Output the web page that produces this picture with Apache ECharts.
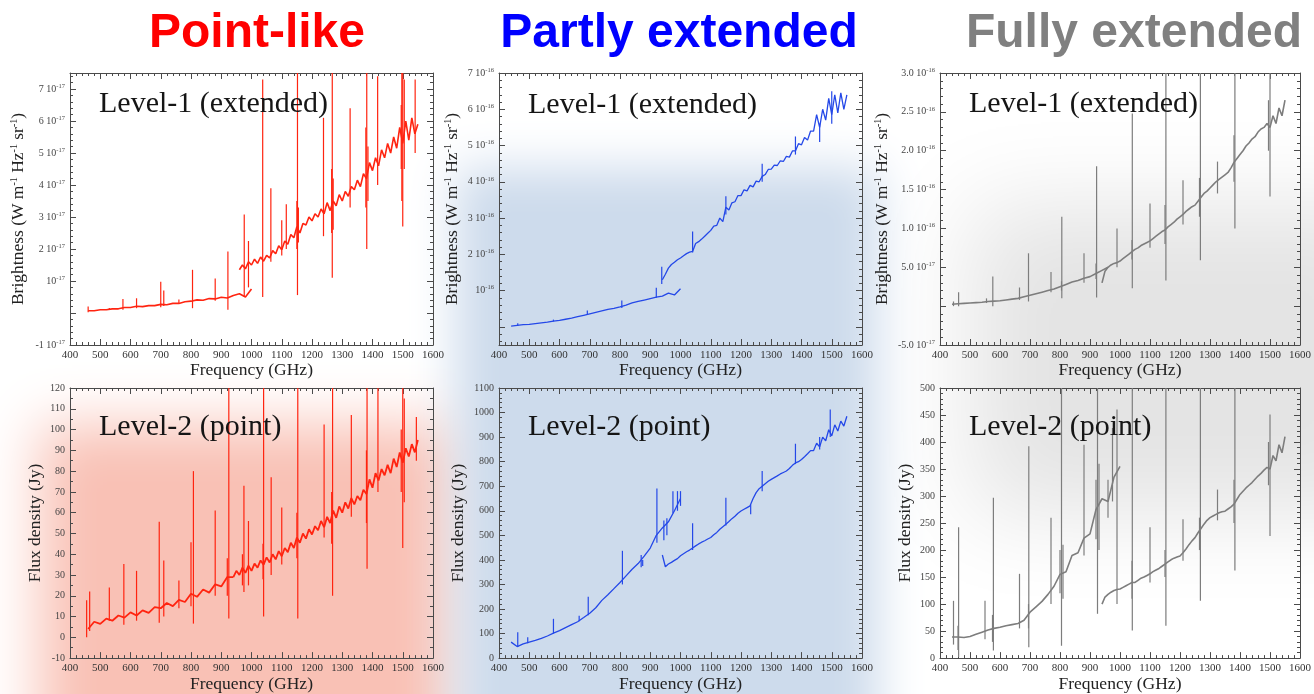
<!DOCTYPE html>
<html>
<head>
<meta charset="utf-8">
<script src="https://cdn.jsdelivr.net/npm/echarts@6/dist/echarts.min.js"></script>
<style>
  html, body { margin: 0; padding: 0; background: #fff; }
  #chart { width: 1314px; height: 694px; }
</style>
</head>
<body>
<div id="chart"></div>
<script>
// frequency grids (GHz) shared by all spectra
const freqLow = [440,460,480,500,520,540,560,580,600,620,640,660,680,700,720,740,760,780,800,820,840,860,880,900,920,940,960,980,1000];
const freqHigh = [940,950,960,970,980,990,1000,1010,1020,1030,
  1040,1050,1060,1070,1080,1090,1100,1110,1120,1130,
  1140,1150,1160,1170,1180,1190,1200,1210,1220,1230,
  1240,1250,1260,1270,1280,1290,1300,1310,1320,1330,
  1340,1350,1360,1370,1380,1390,1400,1410,1420,1430,
  1440,1450,1460,1470,1480,1490,1500,1510,1520,1530,
  1540,1550];

// Point-like, level-1 brightness (units of 1e-17)
const p1Low = [null,0.07,0.07,0.1,0.1,0.13,0.13,0.17,0.17,0.21,
  0.2,0.23,0.23,0.27,0.26,0.3,0.3,0.35,0.37,0.41,
  0.4,0.45,0.44,0.49,0.47,0.55,0.6,0.5,0.75];
const p1High = [null,null,1.35,1.5,1.38,1.6,1.5,1.68,1.55,1.75,
  1.62,1.8,1.72,1.95,1.85,2.1,1.98,2.25,2.15,2.45,
  2.35,2.7,2.5,2.8,2.75,3.0,2.88,3.1,3.0,3.25,
  3.1,3.45,3.2,3.5,3.35,3.7,3.5,3.8,3.65,3.95,
  3.85,4.15,3.95,4.35,4.2,4.7,4.45,4.85,4.6,5.1,
  4.85,5.3,5.0,5.5,5.15,5.8,5.3,6.0,5.4,6.1,
  5.6,5.9];
// spikes: [freq, low, high]
const p1Spikes = [[460,0.02,0.2],[530,0.1,0.16],[575,0.1,0.44],[620,0.15,0.46],[700,0.18,0.98],[710,0.22,0.7],
  [760,0.28,0.42],[805,0.15,1.35],[880,0.38,1.08],[922,0.1,1.92],[976,0.5,3.08],[990,0.8,2.25],
  [1037,0.5,7.3],[1064,1.6,3.9],[1100,1.8,2.9],[1115,2.0,3.4],[1150,2.0,3.5],[1152,0.56,7.5],[1155,2.2,3.3],
  [1238,2.4,6.1],[1265,2.5,4.5],[1267,1.1,7.5],[1270,2.6,4.2],[1326,3.3,6.4],[1378,3.3,5.8],[1381,2.0,7.5],
  [1385,3.5,5.2],[1417,4.0,7.4],[1495,4.5,6.5],[1497,3.5,7.5],[1500,2.7,7.5],[1505,4.5,7.3],[1541,5.0,7.3]];

// Partly extended, level-1 brightness (units of 1e-16)
const p2Low = [0.02,0.04,0.06,0.07,0.09,0.11,0.13,0.16,0.18,0.21,
  0.24,0.28,0.32,0.36,0.4,0.44,0.48,0.51,0.55,0.6,
  0.66,0.7,0.74,0.78,0.82,0.85,0.93,0.88,1.05];
const p2High = [1.3,1.45,1.62,1.72,1.78,1.85,1.9,1.96,2.02,2.06,
  2.08,2.3,2.35,2.42,2.5,2.58,2.66,2.78,2.8,3.0,
  2.9,3.3,3.22,3.42,3.45,3.62,3.62,3.78,3.75,3.9,
  3.86,4.02,4.0,4.15,4.2,4.34,4.35,4.46,4.45,4.58,
  4.56,4.7,4.68,4.85,4.85,5.05,5.02,5.22,5.15,5.4,
  5.4,5.85,5.5,6.0,5.7,6.3,5.85,6.4,5.9,6.45,
  6.0,6.4];
const p2Spikes = [[462,0.03,0.1],[580,0.15,0.2],[692,0.33,0.45],[806,0.52,0.73],[920,0.8,1.08],[938,1.18,1.66],
  [1040,2.05,2.63],[1150,3.1,3.6],[1270,4.0,4.5],[1380,4.75,5.25],[1460,5.1,5.6],[1500,5.6,6.5]];

// Fully extended, level-1 brightness (units of 1e-16)
const p3Low = [0.025,0.03,0.035,0.04,0.045,0.05,0.06,0.065,0.07,0.08,
  0.09,0.1,0.12,0.14,0.16,0.18,0.2,0.22,0.25,0.28,
  0.31,0.33,0.36,0.38,0.42,0.46,0.5,null,null];
const p3High = [0.3,0.45,0.5,0.53,0.55,0.56,0.58,0.61,0.64,0.67,
  0.7,0.73,0.75,0.78,0.8,0.82,0.84,0.87,0.9,0.93,
  0.96,0.98,1.02,1.05,1.08,1.12,1.15,1.18,1.22,1.25,
  1.28,1.3,1.35,1.4,1.45,1.48,1.52,1.56,1.6,1.63,
  1.66,1.69,1.72,1.78,1.85,1.9,1.95,2.0,2.06,2.1,
  2.15,2.18,2.24,2.28,2.3,2.35,2.3,2.45,2.35,2.55,
  2.45,2.65];
const p3Spikes = [[445,0.0,0.06],[462,0.0,0.18],[555,0.04,0.1],[576,0.0,0.38],[665,0.08,0.24],[695,0.06,0.68],
  [770,0.18,0.44],[805,0.2,0.32],[806,0.1,1.15],[880,0.3,0.68],[920,0.35,0.55],[922,0.11,1.8],[990,0.5,1.0],
  [1040,0.6,0.85],[1041,0.23,2.48],[1100,0.75,1.32],[1150,0.8,1.3],[1153,0.33,3.0],[1210,1.05,1.62],
  [1265,1.15,1.65],[1268,0.59,3.0],[1325,1.45,1.86],[1380,1.6,2.2],[1383,1.0,3.0],[1495,2.0,2.65],[1500,1.41,3.0]];

// Point-like, level-2 flux density (Jy)
const p4Low = [null,4,7.5,6.5,9,8,10.5,9.5,12,10.5,
  13,11.8,14.5,14,16.5,15,18,17,21,19.5,
  23,21.5,25.5,24.5,29,29,null,null,null];
const p4High = [29,32,30,33.5,31,34.5,32,35.5,33.5,37,
  35,38.5,36,40,37.5,41.5,39,43,41,45.5,
  43,48,45.5,50,47.5,52,49.5,53.5,51.5,56,
  53,58,55,61,57.5,63,60,65,62,67,
  64,68,66,71,69,76,72,79,75.5,81,
  78,83,79,86,82,89,84,91,87,93,
  89,95];
const p4Spikes = [[455,0,17.8],[465,3,22],[530,8,24],[578,6,35.3],[620,8,32],[695,7,55.6],[710,10,37],
  [760,14,27.4],[800,15,45.7],[808,6.6,80],[880,20,61],[920,20,38],[925,9,120],[970,25,40],[975,21.8,73],
  [990,25,56],[1038,28,45],[1040,10,120],[1065,30,77],[1100,35,62.5],[1150,38,60],[1153,9,120],
  [1240,48,102.4],[1265,45,70],[1268,20,120],[1330,58,107],[1380,55,90],[1382,33,120],[1418,70,120],
  [1495,70,100],[1500,43,120],[1505,65,115],[1545,85,106]];

// Partly extended, level-2 flux density (Jy)
const p5Low = [65,47,58,65,72,80,90,102,112,124,
  136,148,165,183,205,235,258,283,308,335,
  362,385,415,448,500,530,555,600,650];
const p5High = [420,372,383,390,398,405,417,425,433,440,
  448,457,465,472,478,485,491,502,512,525,
  535,545,556,568,578,590,599,606,613,620,
  650,674,690,700,710,720,728,735,742,750,
  756,762,772,785,795,800,809,820,832,845,
  845,875,860,900,885,930,905,950,925,965,
  945,985];
const p5Spikes = [[462,45,105],[495,60,85],[580,100,160],[665,150,172],[695,175,250],[808,300,437],
  [870,370,420],[875,375,400],[922,470,691],[945,480,560],[955,500,570],[975,590,680],[990,600,680],
  [1000,620,680],[1040,440,549],[1150,540,653],[1232,586,625],[1270,680,762],[1380,790,873],
  [1460,850,900],[1495,900,1012]];

// Fully extended, level-2 flux density (Jy)
const p6Low = [39,39,38,40,44,48,52,55,57,60,
  62,64,70,85,95,105,118,133,155,160,
  190,195,222,230,275,295,290,335,355];
const p6High = [100,113,118,122,125,127,128,131,134,137,
  140,140,144,148,150,153,156,160,163,166,
  170,174,178,182,185,187,189,195,202,210,
  217,223,232,240,248,255,260,263,266,269,
  271,272,276,280,285,294,303,309,315,320,
  325,331,337,342,348,353,350,375,365,395,
  380,410];
const p6Spikes = [[445,25,106],[460,15,60],[462,2,242],[550,35,106],[575,30,80],[578,14,297],[665,55,156],
  [695,55,100],[696,20,392],[770,100,260],[800,120,200],[805,23,500],[810,110,210],[880,190,395],
  [920,220,330],[925,82,500],[930,200,360],[960,260,330],[975,290,426],[990,100,460],[1040,110,180],
  [1041,51,500],[1100,140,242],[1150,150,200],[1153,60,500],[1210,180,257],[1265,200,260],[1268,106,500],
  [1325,255,312],[1380,250,330],[1383,162,500],[1495,320,400],[1500,226,451]];

const RED = '#ff2410', BLUE = '#2448e8', GRAY = '#7d7d7d';
const SERIF = '"Liberation Serif", "DejaVu Serif", serif';
const SANS = '"Liberation Sans", Arial, sans-serif';
const AXIS = '#4a4a4a';

function pairs(freqs, vals) {
  var out = [];
  for (var i = 0; i < freqs.length; i++) {
    if (vals[i] !== null) out.push([freqs[i], vals[i]]);
  }
  return out;
}

// y tick label helpers (scientific style of the original plots)
var supRich = {
  m: { fontFamily: SERIF, fontSize: 10, color: '#444' },
  e: { fontFamily: SERIF, fontSize: 6.5, color: '#444', padding: [0, 0, 6, 0] }
};
function expLabel(exp) {
  return function (v) {
    var r = Math.round(v * 100) / 100;
    if (r === 0 || Math.abs(r % 1) > 1e-6) return '';
    if (r === 1) return '{m|10}{e|' + exp + '}';
    return '{m|' + r + ' 10}{e|' + exp + '}';
  };
}
function halfLabel(v) {
  var r = Math.round(v * 100) / 100;
  if (r === 0) return '';
  if (Math.abs(r) < 1) return '{m|' + (r * 10).toFixed(1) + ' 10}{e|-17}';
  return '{m|' + r.toFixed(1) + ' 10}{e|-16}';
}
function plain(v) { return String(v); }

const brightName = 'Brightness (W m{e|-1} Hz{e|-1} sr{e|-1})';
const fluxName = 'Flux density (Jy)';

const panels = [
  { low: p1Low, high: p1High, spikes: p1Spikes, color: RED, width: 1.6, name: brightName, gap: 43,
    y: { min: -1, max: 7.5, interval: 1, minor: 5, fmt: expLabel('-17') } },
  { low: p2Low, high: p2High, spikes: p2Spikes, color: BLUE, width: 1.3, name: brightName, gap: 38,
    y: { min: -0.5, max: 7, splitNumber: 7, minor: 5, fmt: expLabel('-16') } },
  { low: p3Low, high: p3High, spikes: p3Spikes, color: GRAY, width: 1.6, name: brightName, gap: 49,
    y: { min: -0.5, max: 3, interval: 0.5, minor: 5, fmt: halfLabel } },
  { low: p4Low, high: p4High, spikes: p4Spikes, color: RED, width: 1.8, name: fluxName, gap: 26,
    y: { min: -10, max: 120, interval: 10, minor: 2 } },
  { low: p5Low, high: p5High, spikes: p5Spikes, color: BLUE, width: 1.3, name: fluxName, gap: 32,
    y: { min: 0, max: 1100, interval: 100, minor: 5 } },
  { low: p6Low, high: p6High, spikes: p6Spikes, color: GRAY, width: 1.6, name: fluxName, gap: 26,
    y: { min: 0, max: 500, interval: 50, minor: 5 } }
];

const colLeft = [70, 499, 940];
const rowTop = [73, 388];
const rowH = [272, 271];
const plotW = 363;

var grid = [], xAxis = [], yAxis = [], series = [];

function spikeItem(params, api) {
  var lo = api.coord([api.value(0), api.value(1)]);
  var hi = api.coord([api.value(0), api.value(2)]);
  return {
    type: 'line',
    shape: { x1: lo[0], y1: lo[1], x2: hi[0], y2: hi[1] },
    style: { stroke: api.visual('color'), lineWidth: 1.2 }
  };
}

panels.forEach(function (p, i) {
  var row = Math.floor(i / 3), col = i % 3;
  grid.push({ left: colLeft[col], top: rowTop[row], width: plotW, height: rowH[row], show: false });

  var tickBase = {
    axisLine: { onZero: false, lineStyle: { color: AXIS, width: 1 } },
    axisTick: { inside: true, length: 6, lineStyle: { color: AXIS } },
    splitLine: { show: false }
  };
  var xBase = Object.assign({ gridIndex: i, type: 'value', min: 400, max: 1600, interval: 100,
    minorTick: { show: true, splitNumber: 5, length: 3, lineStyle: { color: AXIS } } }, tickBase);
  xAxis.push(Object.assign({}, xBase, {
    position: 'bottom',
    name: 'Frequency (GHz)', nameLocation: 'middle', nameGap: row ? 15 : 14,
    nameTextStyle: { fontFamily: SERIF, fontSize: 17.5, color: '#222' },
    axisLabel: { fontFamily: SERIF, fontSize: 11, color: '#333', margin: 5, formatter: plain }
  }));
  xAxis.push(Object.assign({}, xBase, { position: 'top', axisLabel: { show: false } }));

  var yBase = Object.assign({ gridIndex: i, type: 'value', min: p.y.min, max: p.y.max,
    minorTick: { show: true, splitNumber: p.y.minor, length: 3, lineStyle: { color: AXIS } } }, tickBase);
  if (p.y.interval) yBase.interval = p.y.interval;
  if (p.y.splitNumber) yBase.splitNumber = p.y.splitNumber;
  var yLabel = { fontFamily: SERIF, fontSize: 10, color: '#444', margin: 5, showMaxLabel: i !== 0,
    formatter: plain };
  if (p.y.fmt) { yLabel.formatter = p.y.fmt; yLabel.rich = supRich; }
  yAxis.push(Object.assign({}, yBase, {
    position: 'left',
    name: p.name, nameLocation: 'middle', nameGap: p.gap, nameRotate: 90,
    nameTextStyle: { fontFamily: SERIF, fontSize: 17.5, color: '#222',
      rich: { e: { fontFamily: SERIF, fontSize: 10, color: '#222', padding: [0, 0, 8, 0] } } },
    axisLabel: yLabel
  }));
  yAxis.push(Object.assign({}, yBase, { position: 'right', axisLabel: { show: false } }));

  var lineBase = { type: 'line', xAxisIndex: 2 * i, yAxisIndex: 2 * i, showSymbol: false, symbol: 'none',
    lineStyle: { color: p.color, width: p.width }, itemStyle: { color: p.color }, z: 3 };
  series.push(Object.assign({ data: pairs(freqLow, p.low) }, lineBase));
  series.push(Object.assign({ data: pairs(freqHigh, p.high) }, lineBase));
  series.push({ type: 'custom', xAxisIndex: 2 * i, yAxisIndex: 2 * i, clip: true, z: 2,
    itemStyle: { color: p.color }, encode: { x: 0, y: [1, 2] },
    renderItem: spikeItem, data: p.spikes });
});

// soft coloured backgrounds: only the blurred shadow of an off-screen rect is visible
function glow(x, y, w, h, color, blur) {
  return { type: 'rect', z: -10, silent: true,
    shape: { x: x - 4000, y: y, width: w, height: h },
    style: { fill: color, shadowColor: color, shadowBlur: blur, shadowOffsetX: 4000, shadowOffsetY: 0 } };
}
function label(text, x, y, font, fill) {
  return { type: 'text', z: 50, silent: true,
    style: { text: text, x: x, y: y, font: font, fill: fill, align: 'center', verticalAlign: 'middle' } };
}
function panelLabel(text, x, y) {
  return { type: 'text', z: 50, silent: true,
    style: { text: text, x: x, y: y, font: '30px ' + SERIF, fill: '#151515', align: 'left', verticalAlign: 'middle' } };
}

var graphic = [
  glow(970, 205, 430, 310, '#e4e4e4', 90),
  glow(40, 425, 412, 335, '#f9c1b5', 55),
  glow(456, 168, 422, 600, '#cddbec', 45),
  label('Point-like', 257, 34, 'bold 48px ' + SANS, '#ff0000'),
  label('Partly extended', 679, 34, 'bold 48px ' + SANS, '#0000ff'),
  label('Fully extended', 1134, 34, 'bold 48px ' + SANS, '#808080'),
  panelLabel('Level-1 (extended)', 99, 104),
  panelLabel('Level-1 (extended)', 528, 105),
  panelLabel('Level-1 (extended)', 969, 104),
  panelLabel('Level-2 (point)', 99, 427),
  panelLabel('Level-2 (point)', 528, 427),
  panelLabel('Level-2 (point)', 969, 427)
];

var chart = echarts.init(document.getElementById('chart'));
chart.setOption({
  animation: false,
  backgroundColor: '#ffffff',
  grid: grid,
  xAxis: xAxis,
  yAxis: yAxis,
  series: series,
  graphic: graphic
});
</script>
</body>
</html>
